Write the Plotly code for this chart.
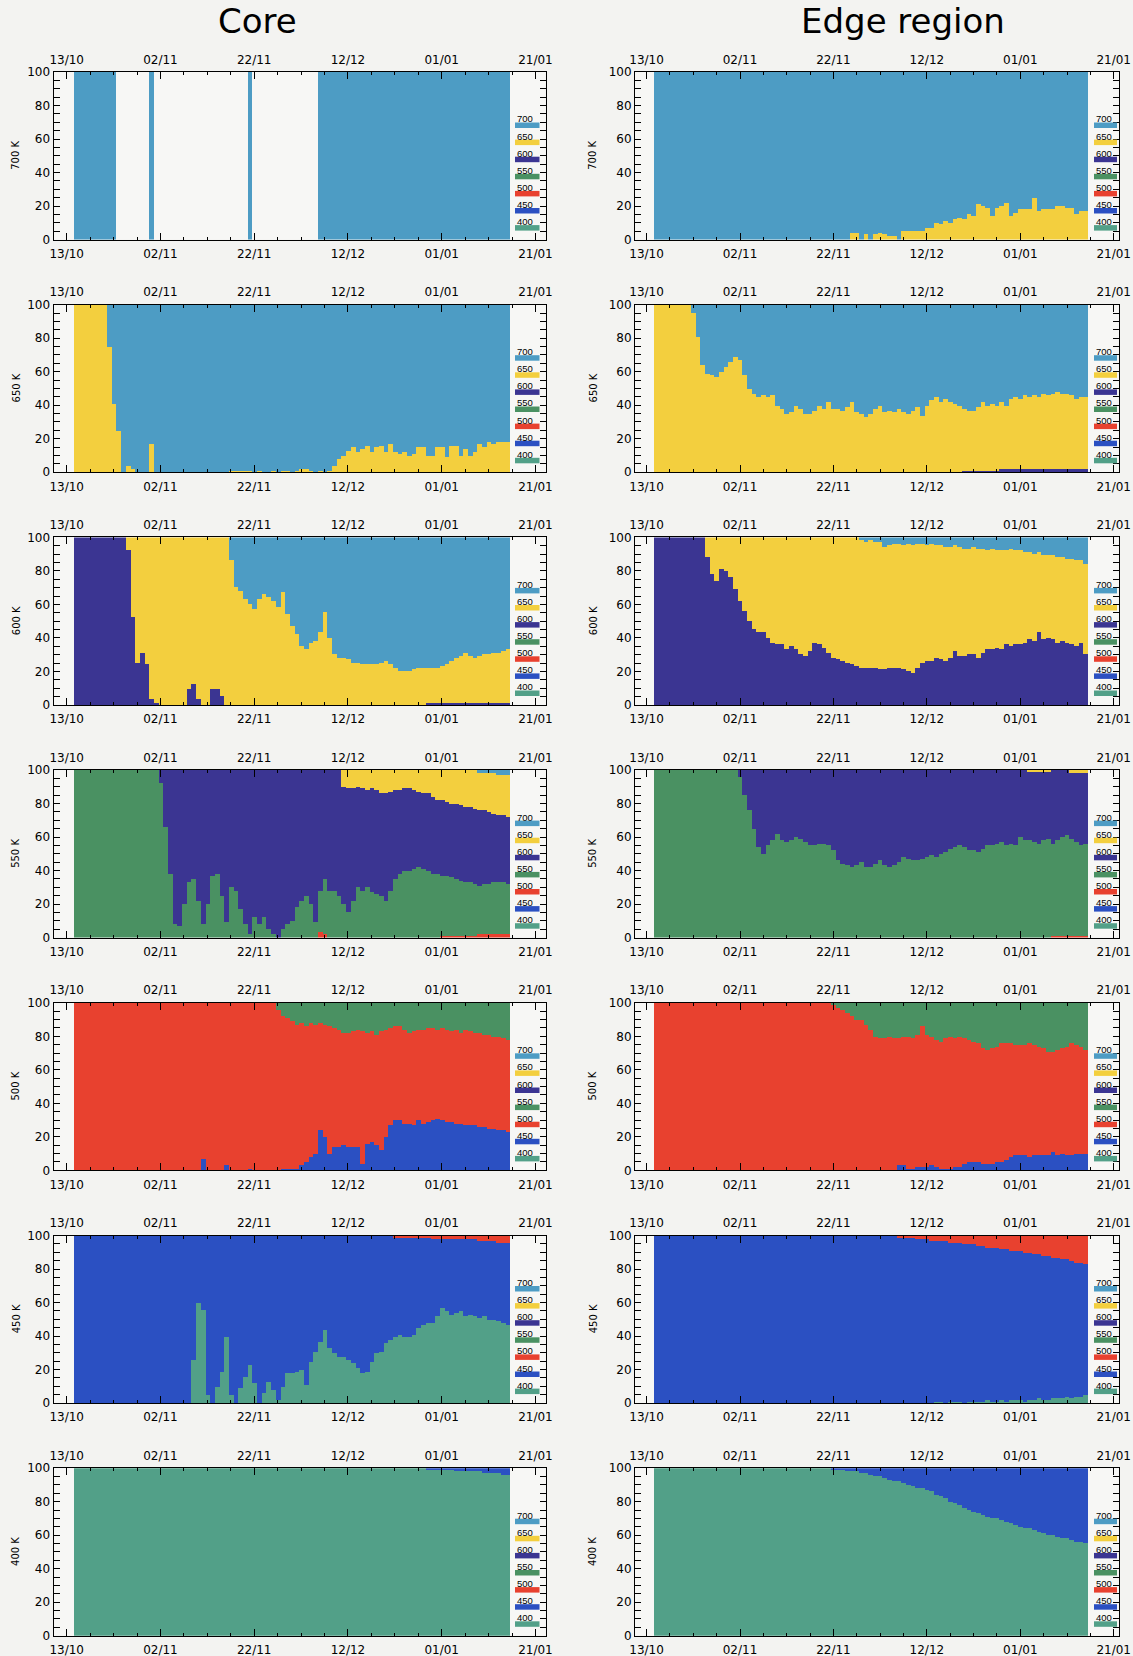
import plotly.graph_objects as go
from datetime import datetime, timedelta

# ---------------- data ----------------
LEVELS = ["700", "650", "600", "550", "500", "450", "400"]          # legend order, top -> bottom
STACK_ORDER = ["400", "450", "500", "550", "600", "650", "700"]     # bottom -> top
LEVEL_COLORS = {"700": "#4d9cc4", "650": "#f3cf3e", "600": "#3b3592", "550": "#4a9162",
                "500": "#e8412f", "450": "#2b50c2", "400": "#52a088"}
DAYS = [datetime(1999, 10, 15) + timedelta(days=k) for k in range(93)]   # 15/10 .. 15/01
TICK_DATES = ["1999-10-13", "1999-11-02", "1999-11-22", "1999-12-12", "2000-01-01", "2000-01-21"]
TICK_LABELS = ["13/10", "02/11", "22/11", "12/12", "01/01", "21/01"]
COLUMN_TITLES = ["Core", "Edge region"]
ROW_LABELS = ["700 K", "650 K", "600 K", "550 K", "500 K", "450 K", "400 K"]

# percentages per day (index 0 = 15/10)
core_700_k700 = [100]*9 + [0]*7 + [100] + [0]*20 + [100] + [0]*14 + [100]*41
edge_700_k650 = [0]*42 + [4, 4, 0, 3, 0, 3, 4, 3, 2, 2, 0, 5, 5, 5, 5, 5, 7, 7, 10, 9,
                          11, 10, 12, 13, 12, 15, 14, 21, 20, 19, 14, 19, 20, 22, 14, 16, 18, 18, 18, 25,
                          17, 18, 18, 18, 20, 20, 19, 19, 15, 17, 17]
core_650_k650 = [100]*7 + [75, 41, 25, 0, 4, 2, 0, 0, 0, 17] + [0]*16 + [1]*5 + \
    [0, 1, 0, 0, 1, 0, 1, 1, 0, 1, 2, 2, 1, 0, 1, 0, 1, 4, 8, 10,
     13, 15, 12, 14, 16, 12, 15, 16, 12, 17, 12, 11, 12, 10, 11, 15, 15, 10, 10, 15,
     15, 9, 16, 16, 10, 14, 10, 12, 17, 15, 18, 17, 18, 18, 18]
edge_650_k600 = [0]*66 + [1]*8 + [2]*19
edge_650_k650 = [100]*8 + [95, 81, 64, 59, 58, 57, 60, 63, 66, 69,
                           67, 58, 50, 47, 45, 46, 45, 46, 40, 38,
                           35, 36, 40, 38, 35, 35, 37, 40, 38, 42,
                           38, 38, 37, 39, 42, 36, 35, 33, 35, 38,
                           40, 36, 37, 36, 38, 36, 35, 37, 39, 34,
                           40, 43, 45, 42, 44, 42, 41, 40,
                           37, 36, 36, 38, 41, 39, 40, 39,
                           40, 38, 42, 43, 42, 44, 43, 44, 43, 45, 44, 45, 46, 45, 45, 44, 42, 43, 43]
core_600_k600 = [100]*11 + [92, 52, 25, 31, 24, 3, 1] + [0]*6 + [9, 12, 3, 0, 0, 9, 9, 5] + [0]*43 + [1]*18
core_600_k650 = [0]*11 + [8, 48, 75, 69, 76, 97, 99] + [100]*6 + [91, 88, 97, 100, 100, 91, 91, 95] + \
    [100, 86, 70, 68, 63, 60, 57, 63, 66, 64, 62, 58, 67, 54, 47, 42, 35, 33, 37, 38,
     43, 55, 40, 30, 28, 28, 27, 25, 25, 24, 24, 24, 24, 25, 26, 24, 22, 20, 20, 20, 21, 22, 22,
     21, 21, 21, 22, 23, 25, 27, 28, 30, 28, 27, 28, 29, 29, 30, 30, 31, 32]
edge_600_k600 = [100]*11 + [88, 78, 74, 81, 80, 76, 69, 62, 56, 50,
                            45, 43, 43, 40, 37, 36, 36, 33, 35, 33,
                            30, 29, 32, 37, 36, 34, 31, 28, 27, 26,
                            25, 24, 23, 22, 22, 22, 22, 21, 21, 22,
                            22, 22, 21, 20, 19, 22, 25, 26, 26, 28,
                            27, 26, 28, 32, 29, 29, 30, 30, 28, 31,
                            33, 33, 34, 33, 36, 35, 36, 36, 37, 39,
                            38, 43, 39, 40, 39, 37, 38, 37, 36, 35, 37, 30]
edge_600_k650 = [0]*11 + [12, 22, 26, 19, 20, 24, 31, 38, 44, 50,
                          55, 57, 57, 60, 63, 64, 64, 67, 65, 67,
                          70, 71, 68, 63, 64, 66, 69, 72, 73, 74,
                          75, 76, 77, 76, 75, 76, 75, 76, 73, 73,
                          74, 74, 74, 76, 76, 74, 71, 69, 70, 67,
                          68, 68, 66, 63, 65, 64, 63, 64, 65, 62,
                          59, 60, 58, 59, 56, 58, 56, 56, 54, 52,
                          52, 48, 50, 49, 50, 51, 50, 50, 51, 51, 49, 54]
core_550_k500 = [0]*52 + [3, 2] + [0]*24 + [1]*8 + [2]*7
core_550_k550 = [100]*18 + [92, 66, 38, 8, 7, 20, 33, 35, 22, 8,
                            20, 37, 38, 25, 9, 30, 28, 17, 8, 2,
                            12, 8, 12, 5, 2, 0, 5, 8, 10, 18,
                            22, 25, 20, 9, 25, 33, 28, 28, 25, 20,
                            15, 22, 30, 28, 30, 27, 26, 25, 22, 28,
                            35, 38, 40, 40, 41, 42, 41, 40, 38, 38,
                            36, 36, 35, 34, 33, 32, 32, 31, 29, 30, 30, 31, 31, 31, 30]
core_550_k600 = [0]*18 + [8, 34, 62, 92, 93, 80, 67, 65, 78, 92,
                          80, 63, 62, 75, 91, 70, 72, 83, 92, 98,
                          88, 92, 88, 95, 98, 100, 95, 92, 90, 82,
                          78, 75, 80, 91, 72, 65, 72, 72, 75, 70,
                          74, 67, 60, 61, 58, 62, 62, 61, 64, 59,
                          53, 50, 49, 49, 47, 45, 45, 46, 46, 44,
                          45, 44, 44, 45, 45, 45, 45, 45, 45, 44, 43, 41, 40, 40, 40]
core_550_k650 = [0]*57 + [10, 11, 11, 10, 11, 12, 11, 12, 14, 14,
                          13, 12, 12, 11, 11, 12, 13, 14, 14, 16,
                          18, 18, 19, 20, 20, 21, 22, 22, 23, 22, 22, 23, 24, 24, 24, 25]
edge_550_k500 = [0]*85 + [1]*8
edge_550_k550 = [100]*18 + [96, 85, 76, 65, 54, 50, 55, 58, 62, 58,
                            57, 58, 60, 59, 57, 55, 55, 56, 56, 55,
                            52, 46, 44, 43, 42, 43, 45, 42, 42, 44,
                            46, 43, 42, 43, 45, 48, 47, 46, 46, 47,
                            48, 49, 48, 50, 51, 53, 54, 55, 54, 52,
                            52, 51, 53, 55, 55, 56, 57, 55, 56, 55,
                            60, 58, 58, 57, 56, 58, 59, 55, 57, 59, 60, 58, 56, 54, 55]
edge_550_k600 = [0]*18 + [4, 15, 24, 35, 46, 50, 45, 42, 38, 42,
                          43, 42, 40, 41, 43, 45, 45, 44, 44, 45,
                          48, 54, 56, 57, 58, 57, 55, 58, 58, 56,
                          54, 57, 58, 57, 55, 52, 53, 54, 54, 53,
                          52, 51, 52, 50, 49, 47, 46, 45, 46, 48,
                          48, 49, 47, 45, 45, 44, 43, 45, 44, 45,
                          40, 42, 41, 42, 43, 41, 40, 44, 42, 40, 39, 39, 41, 43, 42]
edge_550_k650 = [0]*80 + [1]*5 + [0]*4 + [2]*4
core_500_k450 = [0]*27 + [7] + [0]*4 + [3] + [0]*4 + [1] + [0]*6 + \
    [1, 1, 1, 1, 3, 5, 8, 10, 24, 20, 10, 14, 14, 15, 14, 14, 14, 4, 16, 17,
     15, 12, 20, 27, 30, 30, 28, 28, 27, 30, 28, 29, 30, 31, 30, 29, 29, 28, 28, 27,
     27, 27, 26, 26, 25, 25, 24, 24, 23]
core_500_k500 = [100]*27 + [93] + [100]*4 + [97] + [100]*4 + [99] + [100]*5 + \
    [96, 91, 90, 88, 86, 85, 81, 80, 77, 64, 67, 76, 71, 70, 67, 68, 69, 70, 79, 66,
     66, 66, 71, 64, 58, 56, 56, 56, 54, 56, 54, 56, 56, 55, 53, 55, 55, 54, 56, 54,
     57, 56, 55, 56, 55, 56, 55, 56, 55, 55]
edge_500_k450 = [0]*52 + [3, 3, 1, 1, 2, 2, 2, 3, 2, 1, 1, 1, 2, 2, 4, 5, 5, 5, 4, 4,
                          4, 5, 5, 6, 8, 9, 9, 9, 8, 9, 9, 9, 9, 11, 9, 10, 9, 9, 10, 10, 10]
edge_500_k500 = [100]*38 + [99, 97, 96, 94, 92, 90, 90, 87, 84, 80,
                            79, 79, 80, 79, 76, 77, 79, 78, 79, 84,
                            79, 77, 76, 76, 78, 79, 77, 78, 75, 73,
                            72, 71, 69, 68, 69, 69, 71, 70, 68, 66,
                            66, 66, 68, 66, 65, 64, 62, 60, 63, 63,
                            65, 67, 65, 64, 62]
core_450_k400 = [0]*25 + [26, 60, 56, 5, 0, 10, 19, 40, 5, 0,
                          9, 16, 23, 12, 0, 6, 13, 8, 2, 10,
                          18, 18, 19, 20, 11, 25, 31, 37, 44, 33,
                          30, 28, 28, 26, 24, 21, 18, 19, 25, 30,
                          31, 36, 38, 40, 41, 40, 40, 41, 45, 47,
                          48, 48, 52, 57, 55, 53, 54, 55, 52, 53,
                          52, 51, 52, 50, 50, 49, 48, 47]
core_450_k500 = [0]*68 + [1]*8 + [2]*10 + [3]*4 + [4]*3
edge_450_k400 = [0]*60 + [1, 1, 0, 1, 1, 1, 0, 1, 1, 1, 1, 2, 1, 1, 2, 1,
                          2, 2, 2, 1, 2, 2, 3, 2, 2, 3, 3, 3, 4, 3, 4, 4, 5]
edge_450_k500 = [0]*52 + [1, 1, 1, 1, 2, 2, 2, 3, 3, 3,
                          3, 4, 4, 4, 5, 5, 5, 6, 6, 7,
                          7, 7, 8, 8, 9, 9, 9, 10, 10, 11,
                          11, 12, 12, 13, 13, 14, 14, 15, 16, 16, 17]
core_400_k450 = [0]*75 + [1, 1, 1, 1, 1, 1, 2, 2, 2, 2, 2, 2, 3, 3, 3, 3, 4, 4]
edge_400_k450 = [0]*38 + [1, 1, 1, 2, 2, 2, 3, 3,
                          4, 5, 5, 6, 7, 8, 8, 9, 10, 11, 12, 12,
                          13, 14, 16, 17, 18, 20, 21, 22, 24, 25,
                          26, 27, 28, 29, 30, 30, 31, 32, 33, 34,
                          35, 36, 36, 37, 38, 39, 40, 40, 41, 42, 42, 43, 44, 44, 45]

# (row, col, explicit series, level that fills the remainder up to 100 %)
PANELS = [
    (0, 0, {"700": core_700_k700}, None),
    (0, 1, {"650": edge_700_k650}, "700"),
    (1, 0, {"650": core_650_k650}, "700"),
    (1, 1, {"600": edge_650_k600, "650": edge_650_k650}, "700"),
    (2, 0, {"600": core_600_k600, "650": core_600_k650}, "700"),
    (2, 1, {"600": edge_600_k600, "650": edge_600_k650}, "700"),
    (3, 0, {"500": core_550_k500, "550": core_550_k550, "600": core_550_k600, "650": core_550_k650}, "700"),
    (3, 1, {"500": edge_550_k500, "550": edge_550_k550, "600": edge_550_k600, "650": edge_550_k650}, "700"),
    (4, 0, {"450": core_500_k450, "500": core_500_k500}, "550"),
    (4, 1, {"450": edge_500_k450, "500": edge_500_k500}, "550"),
    (5, 0, {"400": core_450_k400, "500": core_450_k500}, "450"),
    (5, 1, {"400": edge_450_k400, "500": edge_450_k500}, "450"),
    (6, 0, {"450": core_400_k450}, "400"),
    (6, 1, {"450": edge_400_k450}, "400"),
]

# ---------------- geometry / style ----------------
W, H = 1133, 1656
BG = "#f3f3f1"
FONT = "DejaVu Sans"
ROW_TOP0, ROW_STEP, PANEL_H = 72.0, 232.7, 167.5
COL_X = [(53.5, 545.5), (635.0, 1119.0)]
COL_PAD_DAYS = [(2.82, 2.14), (2.48, 1.13)]
LEGEND_X = [(515.0, 539.5), (1094.0, 1117.0)]
YTITLE_X = [16.0, 593.0]
TITLE_POS = [(257.0, 21.0), (903.0, 21.0)]
DAY_MS = 86400000

def px(x):
    return x / W

def py(y):
    return 1 - y / H

fig = go.Figure()
layout = dict(
    width=W, height=H, margin=dict(l=0, r=0, t=0, b=0, pad=0, autoexpand=False),
    paper_bgcolor=BG, plot_bgcolor="#f7f7f5",
    barmode="stack", bargap=0, showlegend=False,
    font=dict(family=FONT, color="black"),
)
annotations, shapes = [], []
t_first = datetime(1999, 10, 13)
t_last = datetime(2000, 1, 21)

for (r, c, series, rest_level) in PANELS:
    i = r * 2 + c + 1
    j = 14 + i
    n = len(DAYS)
    for lv, vals in series.items():
        assert len(vals) == n, (r, c, lv, len(vals))
    data = dict(series)
    if rest_level is not None:
        data[rest_level] = [max(0, 100 - sum(v[k] for v in series.values())) for k in range(n)]
    xa = "x" if i == 1 else f"x{i}"
    ya = "y" if i == 1 else f"y{i}"
    for lv in STACK_ORDER:
        if lv in data:
            fig.add_trace(go.Bar(x=DAYS, y=data[lv], width=DAY_MS, xaxis=xa, yaxis=ya,
                                 marker=dict(color=LEVEL_COLORS[lv], line=dict(width=0)),
                                 name=lv, hoverinfo="x+y+name"))
    fig.add_trace(go.Scatter(x=[DAYS[0]], y=[None], xaxis=f"x{j}", yaxis=ya,
                             mode="markers", showlegend=False, hoverinfo="skip"))

    top = ROW_TOP0 + r * ROW_STEP
    bot = top + PANEL_H
    x0, x1 = COL_X[c]
    pl, pr = COL_PAD_DAYS[c]
    xr = [t_first - timedelta(days=pl), t_last + timedelta(days=pr)]
    common_x = dict(type="date", range=xr, tickmode="array", tickvals=TICK_DATES,
                    ticktext=TICK_LABELS, tickfont=dict(size=12, family=FONT),
                    showgrid=False, zeroline=False, automargin=False)
    layout["xaxis" if i == 1 else f"xaxis{i}"] = dict(
        common_x, domain=[px(x0), px(x1)], anchor=ya, side="bottom",
        showline=True, linecolor="black", linewidth=1, mirror="allticks",
        ticks="inside", ticklen=7, tickwidth=1, tickcolor="black", ticklabelstandoff=3,
        minor=dict(ticks="inside", ticklen=3, tickcolor="black", dtick=5 * DAY_MS,
                   tick0="1999-10-13", showgrid=False))
    layout[f"xaxis{j}"] = dict(common_x, overlaying=xa, anchor=ya, side="top",
                               showline=False, ticks="", ticklabelstandoff=5)
    layout["yaxis" if i == 1 else f"yaxis{i}"] = dict(
        domain=[py(bot), py(top)], anchor=xa, range=[0, 100], automargin=False,
        tickmode="array", tickvals=[0, 20, 40, 60, 80, 100],
        tickfont=dict(size=12, family=FONT), showgrid=False, zeroline=False,
        showline=True, linecolor="black", linewidth=1, mirror="allticks",
        ticks="inside", ticklen=6, tickwidth=1, tickcolor="black",
        minor=dict(ticks="inside", ticklen=3, tickcolor="black", dtick=5, tick0=0, showgrid=False))

    # row label
    annotations.append(dict(text=ROW_LABELS[r], x=px(YTITLE_X[c]), y=py(top + PANEL_H / 2),
                            xref="paper", yref="paper", showarrow=False, textangle=-90,
                            font=dict(size=10, family=FONT), xanchor="center", yanchor="middle"))
    # small legend inside the frame
    lx0, lx1 = LEGEND_X[c]
    for nlev, lv in enumerate(LEVELS):
        ly = top + 47 + 17.1 * nlev
        annotations.append(dict(text=lv, x=px(lx0), y=py(ly), xref="paper", yref="paper",
                                showarrow=False, xanchor="left", yanchor="middle",
                                font=dict(size=9.5, family="Liberation Sans")))
        shapes.append(dict(type="rect", xref="paper", yref="paper", x0=px(lx0), x1=px(lx1),
                           y0=py(ly + 3.5), y1=py(ly + 9), line=dict(width=0),
                           fillcolor=LEVEL_COLORS[lv], layer="above"))

for c, title in enumerate(COLUMN_TITLES):
    tx, ty = TITLE_POS[c]
    annotations.append(dict(text=title, x=px(tx), y=py(ty), xref="paper", yref="paper",
                            showarrow=False, xanchor="center", yanchor="middle",
                            font=dict(size=34, family=FONT)))

layout["annotations"] = annotations
layout["shapes"] = shapes
fig.update_layout(**layout)
fig.write_html("out.html", config={"displayModeBar": False},
               post_script=("document.documentElement.style.margin='0px';"
                            "document.documentElement.style.overflow='hidden';"
                            "document.body.style.margin='0px';"
                            "document.body.style.overflow='hidden';"
                            "document.body.style.background='%s';" % BG))
